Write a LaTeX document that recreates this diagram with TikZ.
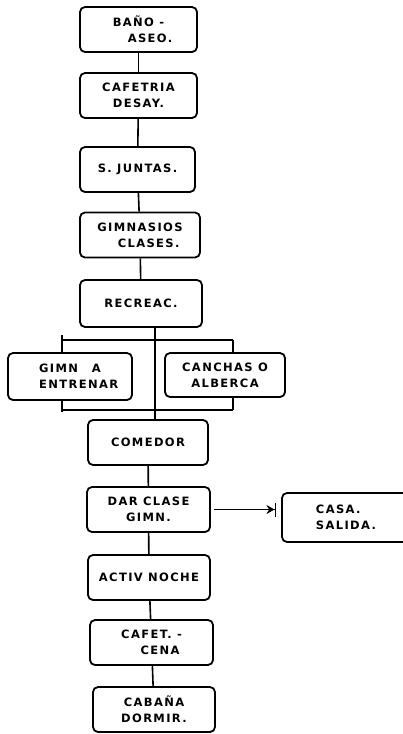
\documentclass[tikz,border=0pt]{standalone}
\usepackage{fontspec}
\setmainfont{DejaVu Sans}
\newfontfamily\handfont[LetterSpace=12]{DejaVu Sans}
\usetikzlibrary{arrows.meta,positioning,calc}
\tikzset{
	abox/.style={
		draw=black,
		rounded corners=5pt,
		align=center,
		inner sep=2pt,
		line width=1.8pt,
		minimum width=120pt,
		minimum height=45pt,
		font=\handfont\bfseries\fontsize{11.5}{16}\selectfont
	},
	aline/.style={line width=1.6pt, black},
	aarr/.style={aline, -{Stealth[length=8pt,width=9pt] Bar[width=14pt]}}
}

\begin{document}
\begin{tikzpicture}[x=1pt, y=-1pt]
		\useasboundingbox (0,0) rectangle (402,734);
		\node[abox, minimum width=117pt] (bano) at (138.5,29.5) {BAÑO -\\\hspace{2em}ASEO.};
		\node[abox, minimum width=117pt] (cafe) at (138.5,95.5) {CAFETRIA\\DESAY.};
		\node[abox, minimum width=115pt] (juntas) at (137.5,169.5) {S. JUNTAS.};
		\node[abox] (gimcl) at (140,235) {GIMNASIOS\\\hspace{1.5em}CLASES.};
		\node[abox, minimum width=122pt, minimum height=47pt] (recre) at (141,303.5) {RECREAC.};
		\node[abox, minimum width=124pt, minimum height=47pt] (gimen) at (70,376.5) {GIMN\hspace{1.2em}A\hspace{1.5em}\\\hspace{1.5em}ENTRENAR};
		\node[abox, minimum height=44pt] (canchas) at (225,375) {CANCHAS O\\ALBERCA};
		\node[abox] (comedor) at (148,442.5) {COMEDOR};
		\node[abox, minimum width=123pt] (clase) at (148.5,509.5) {DAR CLASE\\GIMN.};
		\node[abox, minimum width=128pt, minimum height=49pt, align=left] (casa) at (346,517.5) {CASA.\hspace{4em}\\SALIDA.\hspace{3em}};
		\node[abox, minimum width=122pt] (activ) at (149,577.5) {ACTIV NOCHE};
		\node[abox, minimum width=123pt] (cena) at (151.5,642.5) {CAFET. -\\\hspace{1.5em}CENA};
		\node[abox, minimum width=122pt] (cabana) at (154,709.5) {CABAÑA\\DORMIR.};
		% split and join of the recreation branch
		\coordinate (splitL) at (62,340);
		\coordinate (splitR) at (233,340);
		\coordinate (joinL) at (62,410);
		\coordinate (joinR) at (233,410);
		\coordinate (spine) at (155,340);
		\draw[aline] (bano) -- (cafe);
		\draw[aline] (cafe) -- (juntas);
		\draw[aline] (juntas) -- (gimcl);
		\draw[aline] (gimcl) -- (recre);
		\draw[aline] (recre.south -| spine) -- (comedor.north -| spine);
		\draw[aline] (splitL) -- (splitR);
		\draw[aline] ([yshift=5pt]splitL) -- (gimen.north -| splitL);
		\draw[aline] (splitR) -- (canchas.north -| splitR);
		\draw[aline] (joinL) -- (joinR);
		\draw[aline] (gimen.south -| joinL) -- ([yshift=-2pt]joinL);
		\draw[aline] (canchas.south -| joinR) -- (joinR);
		\draw[aline] (comedor) -- (clase);
		\draw[aarr] ([xshift=3pt]clase.east) -- ([xshift=-5pt]clase.east -| casa.west);
		\draw[aline] (clase) -- (activ);
		\draw[aline] (activ) -- (cena);
		\draw[aline] (cena) -- (cabana);
	\end{tikzpicture}
\end{document}
